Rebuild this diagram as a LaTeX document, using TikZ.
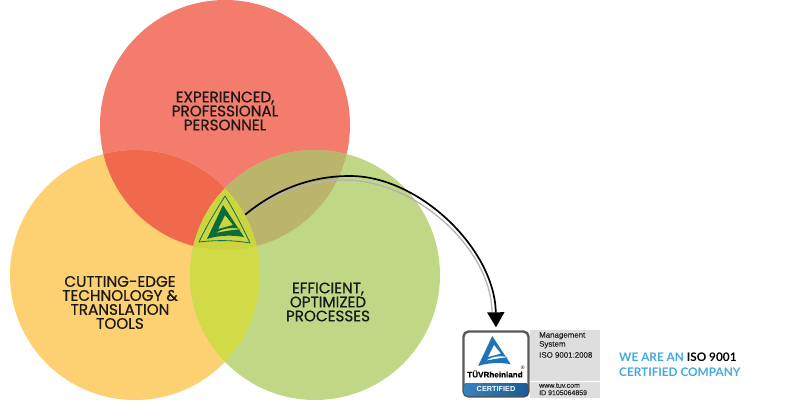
\documentclass[tikz,border=0pt]{standalone}
\usepackage{fontspec}
\setmainfont{Poppins}
\setsansfont{Liberation Sans}
\newfontfamily\slogan{Lato}
\newfontfamily\vennfont[FakeBold=0.6]{Poppins}
\newfontfamily\smallfont[FakeBold=0.3]{Liberation Sans}
\usetikzlibrary{arrows.meta,calc,positioning}
\definecolor{vennred}{HTML}{F37C6C}
\definecolor{vennorange}{HTML}{FDD071}
\definecolor{venngreen}{HTML}{C0D786}
\definecolor{redorange}{HTML}{F0694C}
\definecolor{redgreen}{HTML}{BBB56C}
\definecolor{orangegreen}{HTML}{D1DA47}
\definecolor{tripleoverlap}{HTML}{CDD53E}
\definecolor{logogreen}{HTML}{0B6B3C}
\definecolor{logoteal}{HTML}{118A6E}
\definecolor{tuvblue}{HTML}{1F74B8}
\definecolor{sloganblue}{HTML}{3FA9E0}
\definecolor{panelgrey}{HTML}{DEDEDE}
\newcommand{\redcircle}{(225,125) circle (125)}
\newcommand{\orangecircle}{(135,275) circle (125)}
\newcommand{\greencircle}{(315,275) circle (125)}

\begin{document}
\begin{tikzpicture}[
  x=1pt, y=-1pt,
  venn/.style={font=\vennfont\fontsize{15.2}{14}\selectfont, align=center, text=black!90, inner sep=0pt},
  small/.style={font=\smallfont\fontsize{7.9}{9}\selectfont, align=left, inner sep=0pt, text=black!85},
  tiny/.style={font=\smallfont\fontsize{7}{7.4}\selectfont, align=left, inner sep=0pt, text=black!85},
  sloganline/.style={font=\slogan\bfseries\fontsize{11.8}{14}\selectfont, inner sep=0pt, anchor=west},
  arr/.style={-{Triangle[length=15pt,width=17pt]}, line width=1.7pt},
  pics/tuvmark/.style={code={
    \fill[#1, even odd rule] (-2,-17) -- (-18,17) .. controls (-6,13) and (8,13) .. (19,15) -- cycle
      (0,-7) -- (-7,7) -- (8,3) -- cycle
      (-9,11) .. controls (-3,6) and (8,5) .. (16,7) .. controls (8,8) and (0,9) .. (-9,11) -- cycle;
  }}
]
\useasboundingbox (0,0) rectangle (800,420);
% circles
\fill[vennred] \redcircle;
\fill[vennorange] \orangecircle;
\fill[venngreen] \greencircle;
\begin{scope}
  \clip \redcircle;
  \fill[redorange] \orangecircle;
  \fill[redgreen] \greencircle;
\end{scope}
\begin{scope}
  \clip \orangecircle;
  \fill[orangegreen] \greencircle;
  \clip \greencircle;
  \fill[tripleoverlap] \redcircle;
\end{scope}
% labels
\node[venn] (people) at (225,111) {EXPERIENCED,\\PROFESSIONAL\\PERSONNEL};
\node[venn] (tools) at (120,302.5) {CUTTING-EDGE\\TECHNOLOGY \&\\TRANSLATION\\TOOLS};
\node[venn] (process) at (328,302) {EFFICIENT,\\OPTIMIZED\\PROCESSES};
% logo in the middle
\node[minimum size=40pt, inner sep=0pt] (logo) at (225,222) {};
\draw[logoteal!80!black, line width=0.8pt, line join=round] (225,196) .. controls (235,212) and (243,228) .. (250,243)
  .. controls (233,240) and (216,240) .. (199,242) .. controls (206,227) and (215,212) .. cycle;
\pic at (logo) {tuvmark=logogreen};
% badge
\fill[panelgrey] (530,330) rectangle (600,398);
\draw[white, line width=1pt] (530,381) -- (600,381);
\node[draw=black!65, line width=2.4pt, fill=white, rounded corners=5pt, minimum width=65pt, minimum height=65pt, inner sep=0pt] (badge) at (496,364) {};
\fill[rounded corners=3pt, left color=tuvblue!90!white, right color=tuvblue!80!black] (464,383) rectangle (528,396);
\pic[scale=0.88] at (494,351) {tuvmark=tuvblue};
\node[font=\smallfont\bfseries\fontsize{8.1}{9}\selectfont, inner sep=0pt] (brand) at (495,374) {TÜVRheinland};
\node[font=\sffamily\fontsize{5}{5}\selectfont, inner sep=0pt, above left=0.5pt and -2pt of brand.north east] (reg) {®};
\node[font=\sffamily\bfseries\fontsize{7.3}{9}\selectfont, text=white, inner sep=0pt] (cert) at (496,389) {CERTIFIED};
\node[small, anchor=north west] (system) at (539,332) {Management\\System};
\node[small, below=3.5pt of system.south west, anchor=north west] (iso) {ISO 9001:2008};
\node[tiny, anchor=north west] (web) at (539,383) {www.tuv.com\\ID 9105064859};
% arrow with its shadow
\coordinate (arcpeak) at (350,176);
\coordinate (shadowpeak) at (345,180);
\draw[black!30, line width=1.3pt] (logo.20) .. controls (275,193) and (310,180) .. (shadowpeak) .. controls (415,180) and (491,248) .. (492,312);
\draw[arr, shorten >=3pt] (logo.20) .. controls (275,190) and (310,176) .. (arcpeak) .. controls (420,176) and (495,250) .. (badge.north);
% slogan
\node[sloganline, text=sloganblue] (weare) at (619,357.5) {WE ARE AN \textcolor{black}{ISO 9001}};
\node[sloganline, text=sloganblue, below=6pt of weare.south west, anchor=north west] (company) {CERTIFIED COMPANY};
\end{tikzpicture}
\end{document}
